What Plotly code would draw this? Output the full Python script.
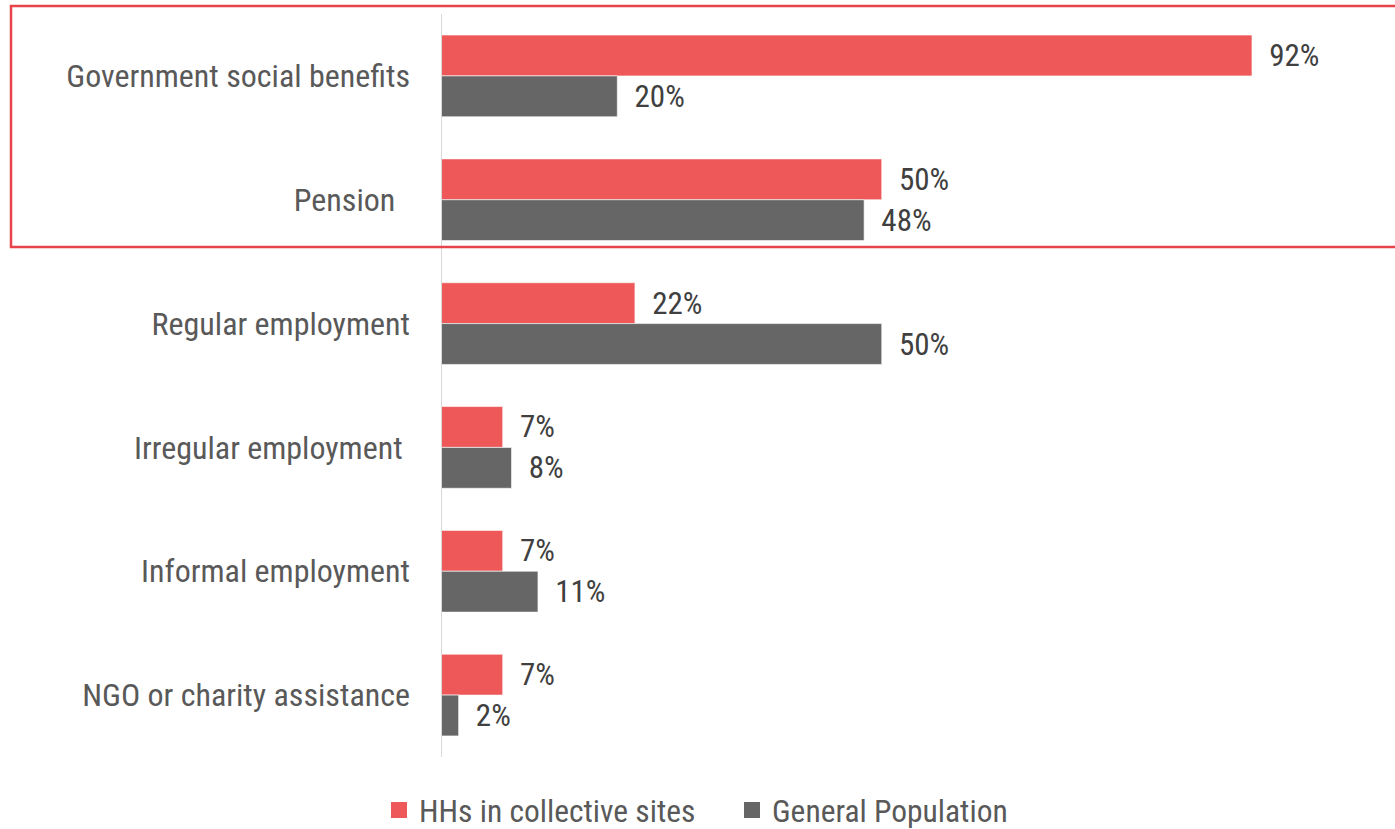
import plotly.graph_objects as go

# Income sources, top to bottom
categories = [
    "Government social benefits",
    "Pension\u00a0\u00a0",
    "Regular employment",
    "Irregular employment\u00a0",
    "Informal employment",
    "NGO or charity assistance",
]
collective_sites = [92, 50, 22, 7, 7, 7]
general_population = [20, 48, 50, 8, 11, 2]

series_names = ["HHs in collective sites", "General Population"]
series_colors = ["#EE5859", "#666666"]

FONT = "Roboto Condensed, Liberation Sans Narrow, DejaVu Sans Condensed, Roboto, sans-serif"

W, H = 1395, 829
L, R, T, B = 441, 0, 14, 72

fig = go.Figure()
for name, vals, col in zip(series_names, [collective_sites, general_population], series_colors):
    fig.add_trace(go.Bar(
        y=categories,
        x=vals,
        name=name,
        orientation="h",
        marker=dict(color=col, line=dict(color="white", width=0.6)),
        text=vals,
        texttemplate="\u00a0\u00a0%{x}%",
        textposition="outside",
        textfont=dict(family=FONT, size=31, color="#404040"),
        cliponaxis=False,
        showlegend=False,
    ))

# square legend keys (larger than the default bar swatch)
for name, col in zip(series_names, series_colors):
    fig.add_trace(go.Scatter(
        x=[None], y=[None],
        mode="markers",
        name=name,
        marker=dict(symbol="square", size=18, color=col),
        hoverinfo="skip",
    ))

plot_w = W - L - R
plot_h = H - T - B
x_max = plot_w / 8.815

fig.update_layout(
    width=W,
    height=H,
    margin=dict(l=L, r=R, t=T, b=B, autoexpand=False),
    paper_bgcolor="white",
    plot_bgcolor="white",
    barmode="group",
    bargap=0.34,
    bargroupgap=0,
    font=dict(family=FONT, color="#595959"),
    xaxis=dict(
        range=[0, x_max],
        visible=False,
        showgrid=False,
        zeroline=False,
    ),
    yaxis=dict(
        autorange="reversed",
        showgrid=False,
        zeroline=False,
        showline=False,
        tickfont=dict(family=FONT, size=32, color="#595959"),
        ticklabelstandoff=30,
    ),
    legend=dict(
        orientation="h",
        xref="container",
        yref="container",
        x=379 / W,
        xanchor="left",
        y=1 - 810 / H,
        yanchor="middle",
        font=dict(family=FONT, size=31.5, color="#595959"),
        itemwidth=30,
        entrywidth=308,
        entrywidthmode="pixels",
        itemsizing="trace",
    ),
    shapes=[
        # vertical baseline at x = 0
        dict(type="line", xref="x", yref="paper", x0=0, x1=0, y0=0, y1=1,
             line=dict(color="#D9D9D9", width=2)),
        # highlight frame around the first two categories
        dict(type="rect", xref="paper", yref="paper",
             x0=(11 - L) / plot_w, x1=(1400 - L) / plot_w,
             y0=1 - (247 - T) / plot_h, y1=1 + (T - 6) / plot_h,
             line=dict(color="#E8434B", width=2.5), fillcolor="rgba(0,0,0,0)"),
    ],
)

fig.write_html("out.html")
